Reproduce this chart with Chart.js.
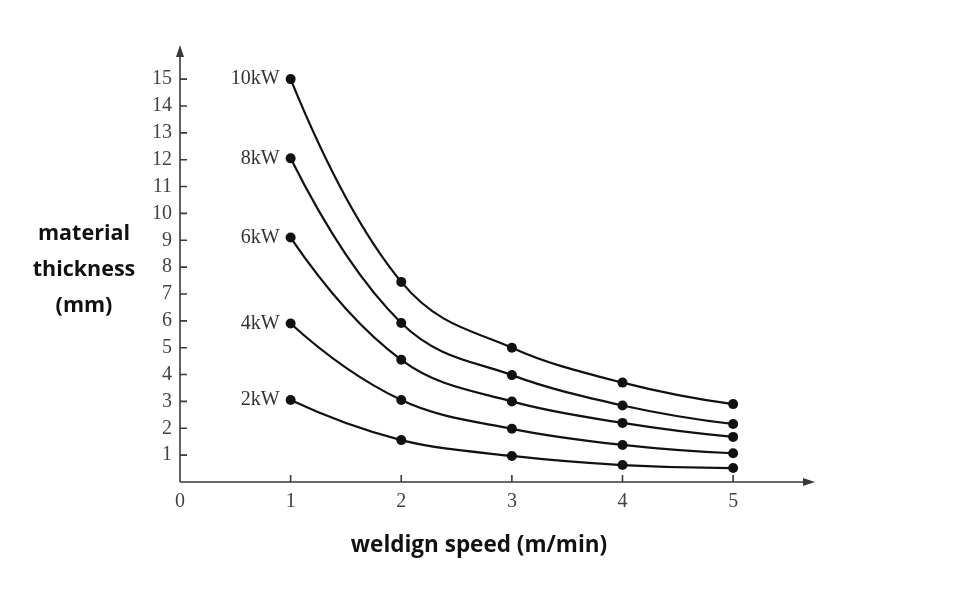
<!DOCTYPE html>
<html>
<head>
<meta charset="utf-8">
<script src="https://cdn.jsdelivr.net/npm/chart.js@4"></script>
<style>
  html, body { margin: 0; padding: 0; background: #fff; }
  #wrap { width: 960px; height: 590px; }
</style>
</head>
<body>
<div id="wrap"><canvas id="chart"></canvas></div>
<script>
// speeds (m/min) and thickness (mm) for each power level
const speeds = [1, 2, 3, 4, 5];
const powers = ['10kW', '8kW', '6kW', '4kW', '2kW'];
const thick10 = [15, 7.45, 5.0, 3.7, 2.9];
const thick8 = [12.05, 5.92, 3.98, 2.85, 2.16];
const thick6 = [9.1, 4.55, 3.0, 2.2, 1.68];
const thick4 = [5.9, 3.05, 1.98, 1.38, 1.07];
const thick2 = [3.05, 1.56, 0.97, 0.63, 0.52];
const xTicks = [0, 1, 2, 3, 4, 5];
const yTicks = [1, 2, 3, 4, 5, 6, 7, 8, 9, 10, 11, 12, 13, 14, 15];

const allThick = [thick10, thick8, thick6, thick4, thick2];

const serif = '"Liberation Serif", "DejaVu Serif", serif';
const sans = '"Open Sans", "Noto Sans", sans-serif';

// smoother, convex control points (chart.js bezier makes an S bend on the steep part)
const smooth = {
    id: 'smooth',
    beforeDatasetDraw(chart, args) {
        const meta = args.meta;
        const pts = meta.data;
        meta.dataset.updateControlPoints(chart.chartArea);
        const n = pts.length;
        const d = [];
        for (let i = 0; i < n - 1; i++) {
            d.push((pts[i + 1].y - pts[i].y) / (pts[i + 1].x - pts[i].x));
        }
        const m = [];
        for (let i = 1; i < n - 1; i++) m[i] = (d[i - 1] + d[i]) / 2;
        m[0] = 2 * d[0] - m[1];
        m[n - 1] = 2 * d[n - 2] - m[n - 2];
        for (let i = 0; i < n; i++) {
            const p = pts[i];
            if (i > 0) {
                const h = (p.x - pts[i - 1].x) / 3;
                p.cp1x = p.x - h;
                p.cp1y = p.y - m[i] * h;
            }
            if (i < n - 1) {
                const h = (pts[i + 1].x - p.x) / 3;
                p.cp2x = p.x + h;
                p.cp2y = p.y + m[i] * h;
            }
        }
    }
};

// axes with arrows, inner tick marks, series labels and axis titles
const decor = {
    id: 'decor',
    afterDatasetsDraw(chart) {
        const ctx = chart.ctx;
        const xs = chart.scales.x, ys = chart.scales.y;
        const x0 = xs.getPixelForValue(0), y0 = ys.getPixelForValue(0);
        const area = chart.chartArea;
        ctx.save();
        ctx.strokeStyle = '#3a3a3a';
        ctx.fillStyle = '#3a3a3a';
        ctx.lineWidth = 1.6;
        ctx.beginPath();
        ctx.moveTo(x0, y0);
        ctx.lineTo(x0, area.top + 4);
        ctx.moveTo(x0, y0);
        ctx.lineTo(area.right - 4, y0);
        // y ticks
        yTicks.forEach(v => {
            const p = ys.getPixelForValue(v);
            ctx.moveTo(x0, p);
            ctx.lineTo(x0 + 7, p);
        });
        // x ticks
        xTicks.slice(1).forEach(v => {
            const p = xs.getPixelForValue(v);
            ctx.moveTo(p, y0);
            ctx.lineTo(p, y0 - 7);
        });
        ctx.stroke();
        // arrows
        ctx.beginPath();
        ctx.moveTo(x0, area.top);
        ctx.lineTo(x0 - 4, area.top + 12);
        ctx.lineTo(x0 + 4, area.top + 12);
        ctx.closePath();
        ctx.fill();
        ctx.beginPath();
        ctx.moveTo(area.right, y0);
        ctx.lineTo(area.right - 12, y0 - 4);
        ctx.lineTo(area.right - 12, y0 + 4);
        ctx.closePath();
        ctx.fill();

        // power labels next to the first point
        ctx.fillStyle = '#333';
        ctx.font = '20px ' + serif;
        ctx.textAlign = 'right';
        ctx.textBaseline = 'middle';
        chart.data.datasets.forEach((ds, i) => {
            const pt = chart.getDatasetMeta(i).data[0];
            ctx.fillText(ds.label, pt.x - 11, pt.y);
        });

        // axis titles
        ctx.fillStyle = '#111';
        ctx.font = 'bold 21.5px ' + sans;
        ctx.textAlign = 'center';
        ['material', 'thickness', '(mm)'].forEach((t, i) => {
            ctx.fillText(t, 84, 234 + i * 36);
        });
        ctx.font = 'bold 22.5px ' + sans;
        ctx.fillText('weldign speed (m/min)', 479, 546);
        ctx.restore();
    }
};

const datasets = powers.map((p, i) => ({
    label: p,
    data: speeds.map((s, j) => ({ x: s, y: allThick[i][j] })),
    borderColor: '#111',
    backgroundColor: '#111',
    borderWidth: 2.2,
    pointRadius: 5,
    pointBackgroundColor: '#111',
    pointBorderWidth: 0,
    tension: 0.4,
    fill: false
}));

new Chart(document.getElementById('chart'), {
    type: 'line',
    data: { datasets: datasets },
    options: {
        responsive: true,
        maintainAspectRatio: false,
        animation: false,
        layout: { padding: { top: 45, right: 145, left: 0, bottom: 0 } },
        plugins: { legend: { display: false }, tooltip: { enabled: false } },
        scales: {
            x: {
                type: 'linear',
                min: 0,
                max: 5.74,
                grid: { display: false, drawTicks: false },
                border: { display: false },
                afterBuildTicks: s => { s.ticks = xTicks.map(v => ({ value: v })); },
                afterFit: s => { s.height = 108; },
                ticks: { font: { family: serif, size: 20 }, color: '#444', padding: 8, maxRotation: 0 }
            },
            y: {
                min: 0,
                max: 16.27,
                grid: { display: false, drawTicks: false },
                border: { display: false },
                afterBuildTicks: s => { s.ticks = yTicks.map(v => ({ value: v })); },
                afterFit: s => { s.width = 180; },
                ticks: { font: { family: serif, size: 20 }, color: '#444', padding: 8 }
            }
        }
    },
    plugins: [smooth, decor]
});
</script>
</body>
</html>
